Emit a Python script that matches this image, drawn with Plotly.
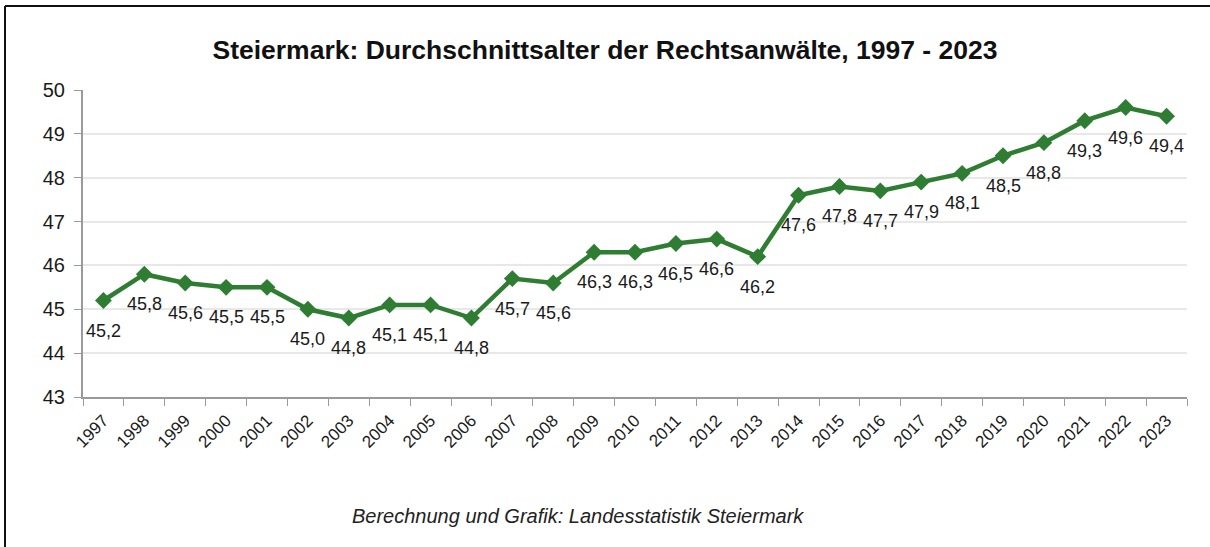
import plotly.graph_objects as go

years = [str(y) for y in range(1997, 2024)]
values = [45.2, 45.8, 45.6, 45.5, 45.5, 45.0, 44.8, 45.1, 45.1, 44.8,
          45.7, 45.6, 46.3, 46.3, 46.5, 46.6, 46.2, 47.6, 47.8, 47.7,
          47.9, 48.1, 48.5, 48.8, 49.3, 49.6, 49.4]
labels = [f"{v:.1f}".replace(".", ",") for v in values]

title = "Steiermark: Durchschnittsalter der Rechtsanwälte, 1997 - 2023"
footer = "Berechnung und Grafik: Landesstatistik Steiermark"

W, H = 1210, 547
ML, MR, MT, MB = 83, 23, 90, 150
PW = W - ML - MR
PH = H - MT - MB

green = "#2E7D32"
font = "Liberation Sans, Arial, sans-serif"

fig = go.Figure()
fig.add_trace(go.Scatter(
    x=years, y=values, mode="lines+markers",
    line=dict(color=green, width=4.5),
    marker=dict(symbol="diamond", size=13, color=green),
    hoverinfo="x+y", showlegend=False,
))

annotations = []
for i, (v, t) in enumerate(zip(values, labels)):
    annotations.append(dict(x=i, y=v, xref="x", yref="y", text=t, showarrow=False,
                            yshift=-30, yanchor="middle",
                            font=dict(family=font, size=18, color="#1a1a1a")))
annotations.append(dict(x=(578 - ML) / PW, y=(H - MB - 516) / PH, xref="paper", yref="paper",
                        text=f"<i>{footer}</i>", showarrow=False, xanchor="center", yanchor="middle",
                        font=dict(family=font, size=20, color="#222222")))

px = lambda p: (p - ML) / PW
py = lambda p: (H - MB - p) / PH
shapes = [
    dict(type="line", xref="paper", yref="paper", x0=px(5), x1=px(5), y0=py(560), y1=py(6),
         line=dict(color="#111111", width=2)),
    dict(type="line", xref="paper", yref="paper", x0=px(5), x1=px(1220), y0=py(6), y1=py(6),
         line=dict(color="#111111", width=2)),
]

fig.update_layout(
    width=W, height=H,
    margin=dict(l=ML, r=MR, t=MT, b=MB),
    paper_bgcolor="white", plot_bgcolor="white",
    title=dict(text=f"<b>{title}</b>", x=0.5, xanchor="center", y=1 - 50 / H, yanchor="middle",
               font=dict(family=font, size=26.5, color="#111111")),
    xaxis=dict(type="category", range=[-0.5, len(years) - 0.5], tickangle=-45,
               tickson="boundaries", ticks="outside", ticklen=7, ticklabelstandoff=5,
               tickcolor="#9a9a9a", showline=True, linecolor="#9a9a9a", linewidth=2,
               showgrid=False, tickfont=dict(family=font, size=17, color="#1a1a1a")),
    yaxis=dict(range=[43, 50], dtick=1, ticks="outside", ticklen=7, tickcolor="#9a9a9a",
               ticklabelstandoff=5,
               showline=True, linecolor="#9a9a9a", linewidth=2,
               showgrid=True, gridcolor="#e8e8e8", gridwidth=2, zeroline=False,
               tickfont=dict(family=font, size=20, color="#1a1a1a")),
    annotations=annotations,
    shapes=shapes,
)

fig.write_html("out.html", config={"displayModeBar": False},
               post_script="document.body.style.margin='0px';")
